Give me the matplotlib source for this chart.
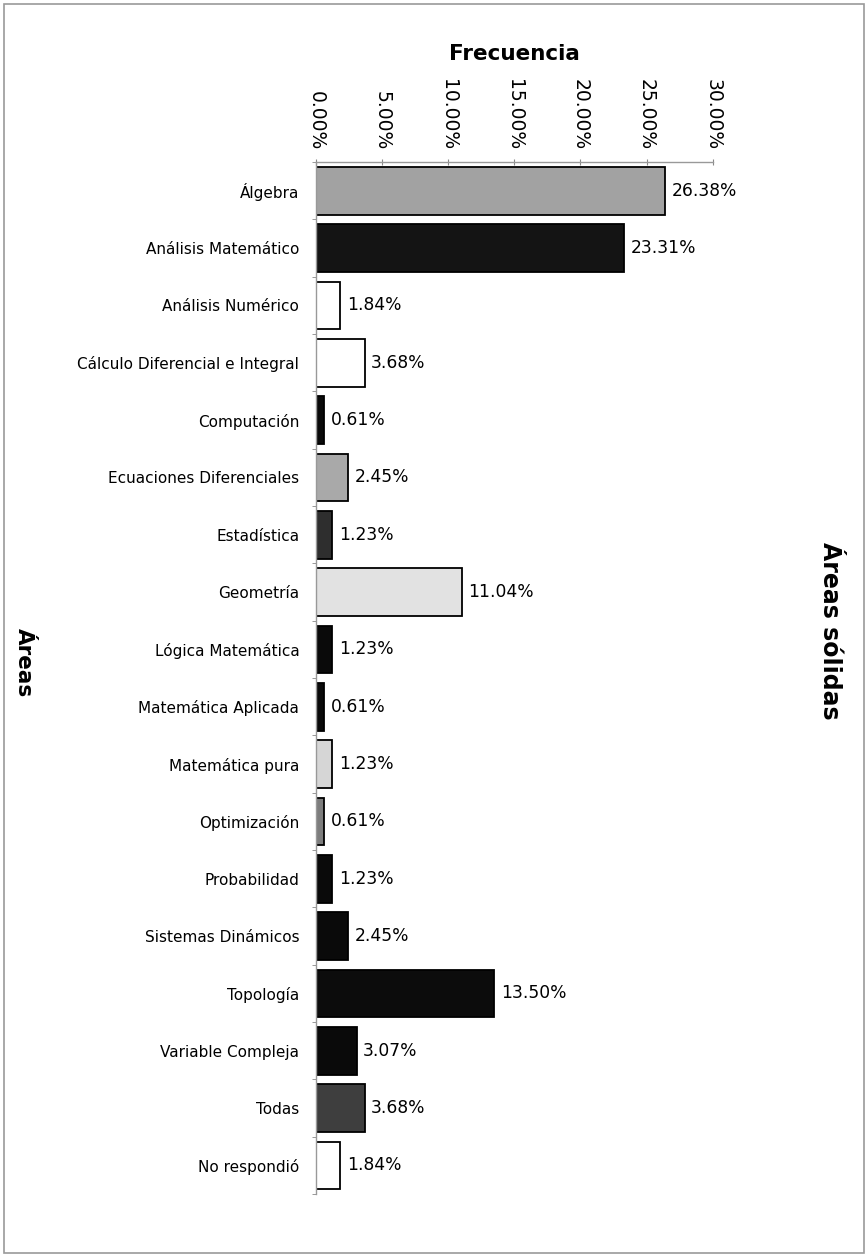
import matplotlib.pyplot as plt
import numpy as np
from matplotlib.ticker import FixedLocator, PercentFormatter

areas = [
    "Álgebra", "Análisis Matemático", "Análisis Numérico",
    "Cálculo Diferencial e Integral", "Computación", "Ecuaciones Diferenciales",
    "Estadística", "Geometría", "Lógica Matemática", "Matemática Aplicada",
    "Matemática pura", "Optimización", "Probabilidad", "Sistemas Dinámicos",
    "Topología", "Variable Compleja", "Todas", "No respondió",
]
frecuencia = [26.38, 23.31, 1.84, 3.68, 0.61, 2.45, 1.23, 11.04, 1.23,
              0.61, 1.23, 0.61, 1.23, 2.45, 13.50, 3.07, 3.68, 1.84]
rellenos = ["#a2a2a2", "#141414", "#ffffff", "#ffffff", "#0a0a0a", "#a9a9a9",
            "#2e2e2e", "#e2e2e2", "#0a0a0a", "#0a0a0a", "#d6d6d6", "#7d7d7d",
            "#0a0a0a", "#0a0a0a", "#0c0c0c", "#0a0a0a", "#3e3e3e", "#ffffff"]
xticks = [0, 5, 10, 15, 20, 25, 30]

plt.rcParams['font.family'] = ['DejaVu Sans']

fig = plt.figure(figsize=(8.68, 12.57), dpi=100)
ax = fig.add_axes([0.364, 0.050, 0.457, 0.821])

y = np.arange(len(areas))
ax.barh(y, frecuencia, height=0.83, color=rellenos, edgecolor="black",
        linewidth=1.3)

for yi, v in zip(y, frecuencia):
    ax.text(v + 0.5, yi, f"{v:.2f}%", va="center", ha="left", fontsize=12.3)

ax.set_xlim(0, 30)
ax.set_ylim(len(areas) - 0.5, -0.5)

# eje de frecuencia arriba, etiquetas giradas
ax.xaxis.tick_top()
ax.set_xticks(xticks)
ax.xaxis.set_major_formatter(PercentFormatter(decimals=2))
ax.tick_params(axis="x", direction="inout", length=5, color="#888888",
               labelsize=13.5, rotation=-90, pad=6)
ax.xaxis.set_label_position("top")
ax.set_xlabel("Frecuencia", fontsize=15.5, fontweight="bold", labelpad=14)

ax.set_yticks(y)
ax.set_yticklabels(areas, fontsize=11)
ax.yaxis.set_minor_locator(FixedLocator(np.arange(-0.5, len(areas), 1)))
ax.tick_params(axis="y", which="major", length=0, pad=12)
ax.tick_params(axis="y", which="minor", length=3, color="#888888")

for s in ["right", "bottom"]:
    ax.spines[s].set_visible(False)
for s in ["top", "left"]:
    ax.spines[s].set_color("#999999")
    ax.spines[s].set_linewidth(1.0)

fig.text(0.027, 0.473, "Áreas", rotation=-90, fontsize=15.5,
         fontweight="bold", ha="center", va="center")
fig.text(0.956, 0.498, "Áreas sólidas", rotation=-90, fontsize=17,
         fontweight="bold", ha="center", va="center")

# marco alrededor de la figura
fig.add_artist(plt.Rectangle((0.005, 0.003), 0.99, 0.994, fill=False,
                             edgecolor="#9a9a9a", linewidth=1.2,
                             transform=fig.transFigure))

fig.savefig("out.png", dpi=100)
